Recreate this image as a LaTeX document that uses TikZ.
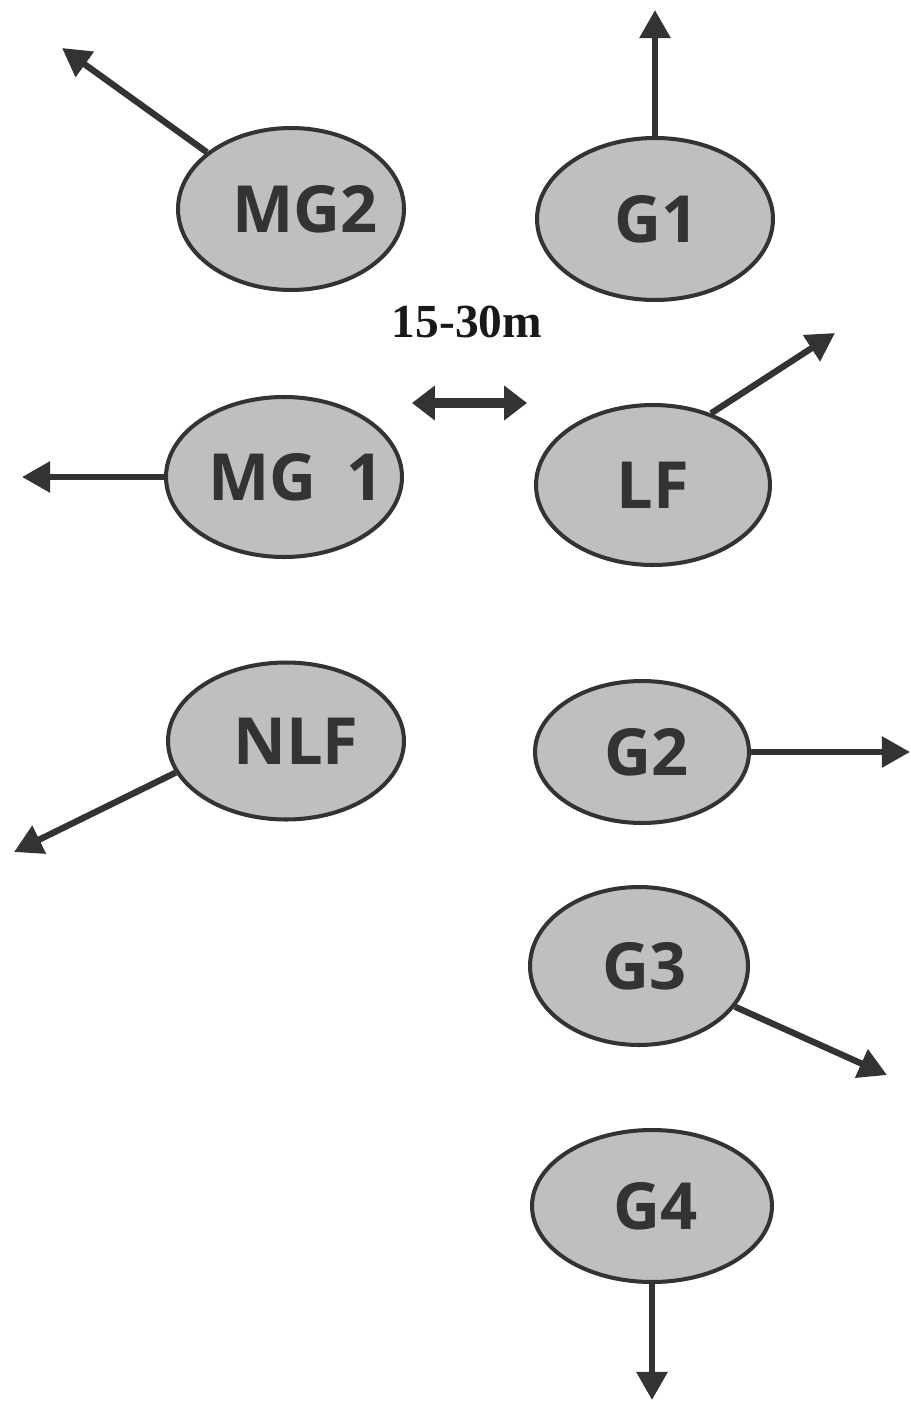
\documentclass[tikz,border=0pt]{standalone}
\usepackage{fontspec}
\setmainfont{Liberation Serif}
\newfontfamily\lblfont{Open Sans}
\usetikzlibrary{arrows.meta,shapes.geometric}
\definecolor{dark}{HTML}{333333}
\definecolor{ellfill}{HTML}{BEBFC1}
\newcommand\shtxt[2]{\makebox[0pt]{\hspace*{#1}\raisebox{-0.08cm}{#2}}}
\begin{document}
\begin{tikzpicture}[x=0.02cm,y=-0.02cm,
  ell/.style={ellipse, draw=dark, fill=ellfill, line width=2.3pt, inner sep=0pt,
    font=\lblfont\bfseries\fontsize{37}{37}\selectfont, text=dark},
  arr/.style={draw=dark, line width=3.6pt, -{Triangle[length=16pt,width=17pt]}},
  dbl/.style={draw=dark, line width=6pt,
    {Triangle[length=13pt,width=19pt]}-{Triangle[length=13pt,width=19pt]}},
  dist/.style={font=\bfseries\fontsize{27}{27}\selectfont, text=black!90}]
\useasboundingbox (0,0) rectangle (911,1405);

\node[ell, minimum width=4.52cm, minimum height=3.24cm] (MG2) at (291,209) {\shtxt{0.56cm}{MG2}};
\node[ell, minimum width=4.72cm, minimum height=3.24cm] (G1)  at (655,219) {\shtxt{0.08cm}{G1}};
\node[ell, minimum width=4.72cm, minimum height=3.2cm]  (MG1) at (284,477) {\shtxt{0.48cm}{MG\hspace{0.45em}1}};
\node[ell, minimum width=4.68cm, minimum height=3.2cm]  (LF)  at (653,485) {\shtxt{0cm}{LF}};
\node[ell, minimum width=4.72cm, minimum height=3.14cm] (NLF) at (286,741) {\shtxt{0.4cm}{NLF}};
\node[ell, minimum width=4.28cm, minimum height=2.84cm] (G2)  at (642,752) {\shtxt{0.2cm}{G2}};
\node[ell, minimum width=4.36cm, minimum height=3.16cm] (G3)  at (639,966) {\shtxt{0.24cm}{G3}};
\node[ell, minimum width=4.8cm,  minimum height=3.04cm] (G4)  at (652,1206) {\shtxt{0.16cm}{G4}};

\node[dist] (lbl) at (467,322) {15-30m};

\coordinate (eMG2) at (62,48);
\coordinate (eG1)  at (655,10);
\coordinate (eMG1) at (22,477);
\coordinate (eLF)  at (835,333);
\coordinate (eNLF) at (14,852);
\coordinate (eG2)  at (910,752);
\coordinate (eG3)  at (887,1075);
\coordinate (eG4)  at (652,1400);
\coordinate (dL) at (412,403);
\coordinate (dR) at (527,403);

\draw[arr] (MG2.146) -- (eMG2);
\draw[arr] (G1.north) -- (eG1);
\draw[arr] (MG1.west) -- (eMG1);
\draw[arr] (LF.51) -- (eLF);
\draw[arr] (NLF.196) -- (eNLF);
\draw[arr] (G2.east) -- (eG2);
\draw[arr] (G3.-23) -- (eG3);
\draw[arr] (G4.south) -- (eG4);
\draw[dbl] (dL) -- (dR);
\end{tikzpicture}
\end{document}
